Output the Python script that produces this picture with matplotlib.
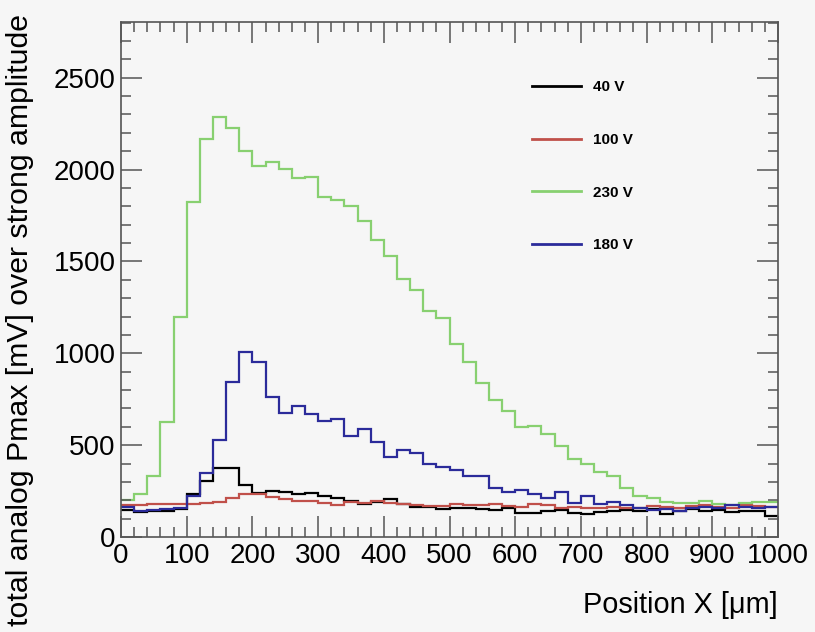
import numpy as np
import matplotlib.pyplot as plt
from matplotlib.ticker import MultipleLocator

# histogram bins: 50 bins of 20 um from 0 to 1000
bin_edges = np.arange(0, 1020, 20)

# 40 V
v40 = [148, 137, 142, 142, 151, 233, 306, 378, 378, 284,
       242, 251, 247, 233, 242, 224, 210, 197, 182, 193,
       209, 178, 164, 164, 151, 160, 160, 151, 147, 160,
       133, 133, 140, 147, 133, 127, 137, 142, 146, 142,
       151, 127, 142, 151, 142, 146, 137, 142, 139, 115]

# 100 V
v100 = [175, 175, 178, 178, 182, 182, 187, 193, 215, 233,
        233, 218, 206, 197, 197, 187, 175, 193, 187, 197,
        187, 178, 175, 169, 169, 178, 175, 175, 178, 169,
        164, 178, 175, 160, 164, 160, 160, 164, 160, 157,
        169, 166, 160, 169, 175, 166, 160, 175, 169, 164]

# 230 V
v230 = [202, 235, 333, 628, 1197, 1825, 2166, 2286, 2226, 2099,
        2020, 2044, 2002, 1956, 1962, 1853, 1835, 1802, 1720, 1616,
        1529, 1407, 1343, 1230, 1194, 1050, 952, 839, 746, 688,
        597, 606, 561, 497, 424, 397, 355, 333, 269, 224,
        211, 191, 187, 187, 197, 178, 175, 187, 191, 193]

# 180 V
v180 = [165, 142, 146, 155, 160, 224, 346, 528, 843, 1006,
        955, 761, 673, 715, 670, 633, 643, 551, 588, 519,
        433, 473, 455, 400, 382, 364, 333, 333, 266, 246,
        255, 236, 215, 246, 187, 224, 178, 193, 173, 160,
        146, 151, 142, 160, 164, 157, 175, 164, 160, 164]

labels = ['40 V', '100 V', '230 V', '180 V']
colors = ['black', '#c0504a', '#88d070', '#2b2b9a']

bg = '#f6f6f6'
fig = plt.figure(figsize=(8.15, 6.32), dpi=100, facecolor=bg)
ax = fig.add_axes([121 / 815, 1 - 537 / 632, 657 / 815, 515.3 / 632])
ax.set_facecolor(bg)

lines = []
for vals, lab, col in zip([v40, v100, v230, v180], labels, colors):
    ax.stairs(vals, bin_edges, baseline=None, color=col, linewidth=1.6)
    lines.append(plt.Line2D([], [], color=col, linewidth=2))

ax.set_xlim(0, 1000)
ax.set_ylim(0, 2805)

ax.xaxis.set_major_locator(MultipleLocator(100))
ax.xaxis.set_minor_locator(MultipleLocator(20))
ax.yaxis.set_major_locator(MultipleLocator(500))
ax.yaxis.set_minor_locator(MultipleLocator(100))

fam = ['Liberation Sans', 'DejaVu Sans']
frame_col = '#555555'
for s in ax.spines.values():
    s.set_color(frame_col)
    s.set_linewidth(1.2)
ax.tick_params(which='both', direction='in', top=True, right=True,
               color=frame_col, width=1.1)
ax.tick_params(which='major', length=15, labelsize=20, pad=4)
ax.tick_params(which='minor', length=7)
for t in ax.get_xticklabels() + ax.get_yticklabels():
    t.set_family(fam)

leg = ax.legend(lines, labels, loc='upper left', bbox_to_anchor=(0.6046, 0.913),
                frameon=False, labelspacing=2.53, handlelength=3.23,
                handletextpad=0.75, prop={'family': fam, 'weight': 'bold', 'size': 11})

fig.text(778 / 815, 1 - 605 / 632, 'Position X [\u03bcm]', ha='right', va='center',
         fontsize=20.8, family=fam)
fig.text(20 / 815, 1 - 14 / 632, 'total analog Pmax [mV] over strong amplitude',
         rotation=90, ha='center', va='top', fontsize=21.8, family=fam)

fig.savefig('out.png', dpi=100, facecolor=bg)
